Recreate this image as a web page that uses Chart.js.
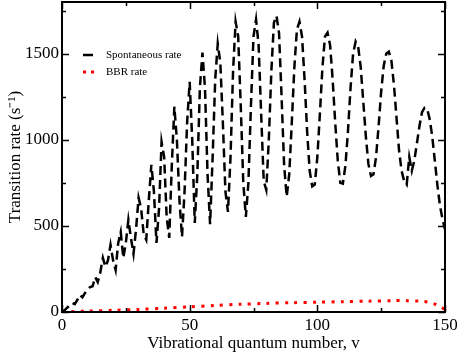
<!DOCTYPE html>
<html>
<head>
<meta charset="utf-8">
<script src="https://cdn.jsdelivr.net/npm/chart.js@4/dist/chart.umd.min.js"></script>
<style>
  html, body { margin: 0; padding: 0; background: #fff; }
  canvas { display: block; }
</style>
</head>
<body>
<canvas id="ratechart" width="458" height="354"></canvas>
<script>
'use strict';

// spontaneous rate (s^-1) at v = 0, 1, 2, ... 150
var spontRate = [
  0, 10, 25, 38, 52, 45, 70, 99, 85, 110,
  130, 145, 150, 203, 174, 230, 314, 262, 300, 390,
  300, 244, 400, 465, 314, 400, 535, 430, 338, 480,
  663, 600, 450, 419, 650, 855, 700, 401, 600, 988,
  900, 550, 430, 850, 1192, 1000, 650, 436, 700, 1100,
  1337, 1000, 517, 800, 1300, 1506, 1300, 800, 510, 900,
  1350, 1558, 1450, 1100, 700, 581, 900, 1400, 1686, 1600,
  1200, 750, 552, 750, 1200, 1600, 1698, 1550, 1150, 760,
  709, 1000, 1400, 1680, 1720, 1620, 1250, 850, 670, 800,
  1100, 1420, 1640, 1686, 1600, 1350, 1050, 820, 730, 740,
  900, 1150, 1420, 1600, 1622, 1550, 1350, 1100, 880, 750,
  745, 850, 1050, 1300, 1500, 1570, 1540, 1420, 1220, 1020,
  860, 790, 800, 900, 1080, 1280, 1430, 1500, 1512, 1460,
  1320, 1130, 940, 820, 760, 740, 900, 820, 880, 980,
  1080, 1160, 1186, 1180, 1120, 1020, 880, 740, 620, 540,
  480
];

// BBR rate, sampled more sparsely
var bbrV = [0, 10, 20, 30, 40, 50, 60, 70, 80, 90, 100, 110, 120, 130, 135, 140, 143, 146, 148, 150];
var bbrRate = [0, 5, 10, 15, 22, 30, 38, 45, 50, 54, 57, 60, 63, 66, 66, 63, 58, 46, 32, 15];

var xTicks = [0, 50, 100, 150];
var xMinor = [25, 75, 125];
var yTicks = [0, 500, 1000, 1500];
var yMinor = [250, 750, 1250, 1750];

var serif = '"Liberation Serif", "Times New Roman", serif';

// frame, inward ticks and the legend
var framePlugin = {
  id: 'frame',
  afterDatasetsDraw: function (chart) {
    var c = chart.ctx;
    var a = chart.chartArea;
    var x = chart.scales.x;
    var y = chart.scales.y;
    c.save();
    c.strokeStyle = '#000';
    c.lineWidth = 2;
    c.strokeRect(a.left, a.top, a.right - a.left, a.bottom - a.top);

    c.lineWidth = 1.5;
    c.beginPath();
    function xt(v, len) {
      var p = Math.round(x.getPixelForValue(v)) + 0.5;
      c.moveTo(p, a.bottom); c.lineTo(p, a.bottom - len);
      c.moveTo(p, a.top); c.lineTo(p, a.top + len);
    }
    function yt(v, len) {
      var p = Math.round(y.getPixelForValue(v)) + 0.5;
      c.moveTo(a.left, p); c.lineTo(a.left + len, p);
      c.moveTo(a.right, p); c.lineTo(a.right - len, p);
    }
    xTicks.forEach(function (v) { xt(v, 7); });
    xMinor.forEach(function (v) { xt(v, 4); });
    yTicks.forEach(function (v) { yt(v, 7); });
    yMinor.forEach(function (v) { yt(v, 4); });
    c.stroke();

    // legend
    c.lineWidth = 2.5;
    c.strokeStyle = '#000';
    c.beginPath();
    c.moveTo(83, 55); c.lineTo(93, 55);
    c.stroke();
    c.fillStyle = '#ff0000';
    c.fillRect(83, 70.5, 3, 3);
    c.fillRect(91, 70.5, 3, 3);
    c.fillStyle = '#000';
    c.font = '11px ' + serif;
    c.textBaseline = 'middle';
    c.fillText('Spontaneous rate', 106, 55);
    c.fillText('BBR rate', 106, 72);
    c.restore();
  }
};

function plain(v) { return String(v); }

var ctx = document.getElementById('ratechart');
new Chart(ctx, {
  type: 'line',
  data: {
    datasets: [{
      label: 'Spontaneous rate',
      data: spontRate.map(function (r, v) { return { x: v, y: r }; }),
      borderColor: '#000',
      borderWidth: 2.5,
      borderDash: [9, 5],
      pointRadius: 0,
      fill: false,
      tension: 0
    }, {
      label: 'BBR rate',
      data: bbrRate.map(function (r, i) { return { x: bbrV[i], y: r }; }),
      borderColor: '#ff0000',
      borderWidth: 3,
      borderDash: [3, 6.3],
      pointRadius: 0,
      fill: false,
      tension: 0.3
    }]
  },
  options: {
    responsive: false,
    animation: false,
    layout: { padding: { top: 2, right: 13, left: 0, bottom: 0 } },
    plugins: {
      legend: { display: false },
      tooltip: { enabled: false }
    },
    scales: {
      x: {
        type: 'linear',
        min: 0,
        max: 150,
        afterBuildTicks: function (s) { s.ticks = xTicks.map(function (v) { return { value: v }; }); },
        afterFit: function (s) { s.height = 42; s.paddingLeft = 0; s.paddingRight = 0; },
        grid: { display: false, drawTicks: false },
        border: { display: false },
        ticks: { color: '#000', padding: 3, maxRotation: 0, callback: plain, font: { family: serif, size: 17 } },
        title: {
          display: true,
          text: 'Vibrational quantum number, v',
          color: '#000',
          padding: { top: 0, bottom: 0 },
          font: { family: serif, size: 17 }
        }
      },
      y: {
        min: 0,
        max: 1800,
        afterBuildTicks: function (s) { s.ticks = yTicks.map(function (v) { return { value: v }; }); },
        afterFit: function (s) { s.width = 62; s.paddingTop = 0; s.paddingBottom = 0; },
        grid: { display: false, drawTicks: false },
        border: { display: false },
        ticks: { color: '#000', padding: 3, callback: plain, font: { family: serif, size: 17 } },
        title: {
          display: true,
          text: 'Transition rate (s\u207B\u00B9)',
          color: '#000',
          padding: { top: 5, bottom: 0 },
          font: { family: serif, size: 17 }
        }
      }
    }
  },
  plugins: [framePlugin]
});
</script>
</body>
</html>
